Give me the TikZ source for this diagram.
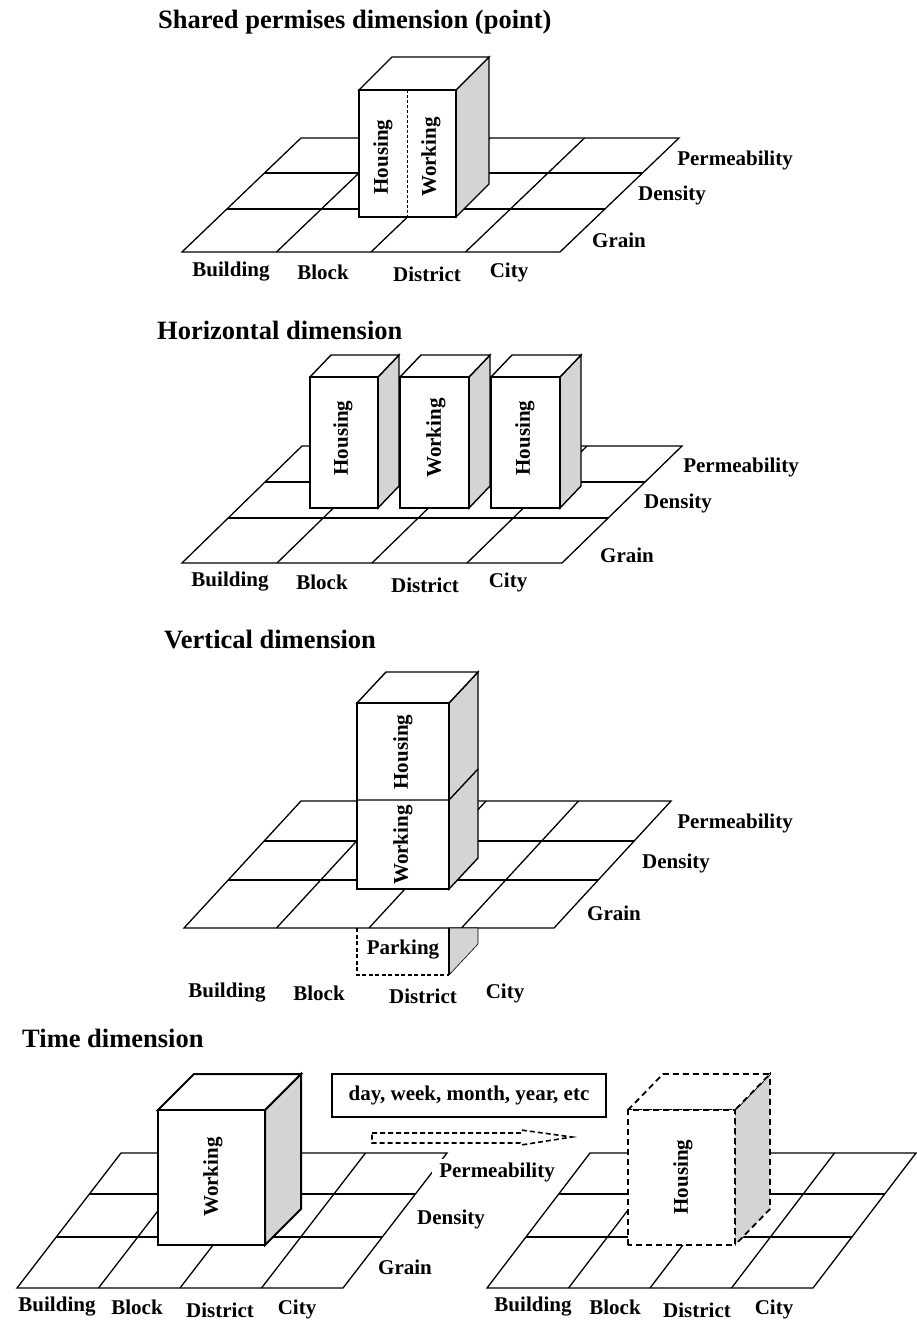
\documentclass[tikz,border=0pt]{standalone}
\usepackage{fontspec}
\setmainfont{Liberation Serif}
\definecolor{sidegray}{HTML}{D4D4D4}
\tikzset{
  gridline/.style={line width=1.3pt, line join=miter},
  face/.style={draw, line width=1.4pt, fill=white, line join=miter},
  side/.style={draw, line width=1.4pt, fill=sidegray, line join=miter},
  lbl/.style={font=\bfseries\fontsize{21}{24}\selectfont, inner sep=0pt},
  vlbl/.style={lbl, rotate=90},
  ttl/.style={font=\bfseries\fontsize{26.5}{30}\selectfont, anchor=west, inner sep=0pt},
  ghost/.style={dash pattern=on 6pt off 4pt, line width=1.8pt},
  splitline/.style={dash pattern=on 3pt off 2pt, line width=1pt},
  underline/.style={dash pattern=on 4pt off 2.5pt, line width=1.2pt},
}
% ground plane: #1 left x, #2 bottom y, #3 width, #4 top y, #5 depth shift, #6 #7 inner rows
\newcommand\floorgrid[7]{%
  \draw[gridline] (#1,#2) -- ({#1+#3},#2) -- ({#1+#3+#5},#4) -- ({#1+#5},#4) -- cycle;
  \foreach \gy in {#6,#7}{\draw[gridline] ({#1+#5*(#2-\gy)/(#2-#4)},\gy) -- ++(#3,0);}
  \foreach \gx in {1,2,3}{\draw[gridline] ({#1+#3*\gx/4},#2) -- ({#1+#3*\gx/4+#5},#4);}
}
% block: #1 front left, #2 front right, #3 top, #4 bottom, #5 #6 depth offset, #7 extra style
\newcommand\prism[7]{%
  \filldraw[side,#7] (#2,#4) -- (#2,#3) -- ({#2+#5},{#3-#6}) -- ({#2+#5},{#4-#6}) -- cycle;
  \filldraw[face,#7] (#1,#3) -- ({#1+#5},{#3-#6}) -- ({#2+#5},{#3-#6}) -- (#2,#3) -- cycle;
  \filldraw[face,#7] (#1,#4) rectangle (#2,#3);
}
\begin{document}
\begin{tikzpicture}[x=1pt, y=-1pt]
\useasboundingbox (0,0) rectangle (916,1321);
\fill[white] (0,0) rectangle (916,1321);

% ---- shared premises ----
\node[ttl] (t1) at (158,22) {Shared permises dimension (point)};
\floorgrid{182}{252}{378}{138}{119}{173}{209}
\prism{359}{456}{90}{217}{33}{33}{}
\draw[splitline] (407.5,90) -- (407.5,217);
\node[vlbl] (p1house) at (383,157) {Housing};
\node[vlbl] (p1work) at (431,157) {Working};
\node[lbl] (p1perm) at (735,160) {Permeability};
\node[lbl] (p1dens) at (672,195) {Density};
\node[lbl] (p1grain) at (619,240) {Grain};
\node[lbl] (p1bld) at (231,272) {Building};
\node[lbl] (p1blk) at (323,272) {Block};
\node[lbl] (p1dst) at (427,274) {District};
\node[lbl] (p1cty) at (509,272) {City};

% ---- horizontal ----
\node[ttl] (t2) at (157,330) {Horizontal dimension};
\floorgrid{182}{563}{380}{446}{120}{482}{518}
\prism{310}{378}{377}{508}{21}{22}{}
\prism{400}{469}{377}{508}{21}{22}{}
\prism{491}{560}{377}{508}{21}{22}{}
\node[vlbl] (p2h1) at (343,438) {Housing};
\node[vlbl] (p2w) at (436,438) {Working};
\node[vlbl] (p2h2) at (525,438) {Housing};
\node[lbl] (p2perm) at (741,467) {Permeability};
\node[lbl] (p2dens) at (678,503) {Density};
\node[lbl] (p2grain) at (627,555) {Grain};
\node[lbl] (p2bld) at (230,582) {Building};
\node[lbl] (p2blk) at (322,582) {Block};
\node[lbl] (p2dst) at (425,585) {District};
\node[lbl] (p2cty) at (508,582) {City};

% ---- vertical ----
\node[ttl] (t3) at (164,640) {Vertical dimension};
\floorgrid{184}{928}{370}{801}{117}{841}{880}
\filldraw[side, line width=0.6pt] (449,928) -- (478,928) -- (478,944) -- (449,975) -- cycle;
\draw[underline] (357,928) -- (357,975) -- (449,975);
\draw[line width=1.2pt] (449,928) -- (449,975);
\prism{357}{449}{703}{889}{29}{31}{}
\draw[line width=1.4pt] (357,800) -- (449,800) -- (478,769);
\node[vlbl] (p3h) at (403,752) {Housing};
\node[vlbl] (p3w) at (403,845) {Working};
\node[lbl] (p3park) at (403,950) {Parking};
\node[lbl] (p3perm) at (735,823) {Permeability};
\node[lbl] (p3dens) at (676,863) {Density};
\node[lbl] (p3grain) at (614,913) {Grain};
\node[lbl] (p3bld) at (227,993) {Building};
\node[lbl] (p3blk) at (319,993) {Block};
\node[lbl] (p3dst) at (423,996) {District};
\node[lbl] (p3cty) at (505,993) {City};

% ---- time ----
\node[ttl] (t4) at (22,1038) {Time dimension};
\floorgrid{17}{1288}{326}{1153}{104}{1194}{1237}
\prism{158}{265}{1110}{1245}{36}{36}{line width=2pt}
\node[vlbl] (p4w) at (213,1177) {Working};
\floorgrid{487}{1288}{326}{1153}{103}{1194}{1237}
\prism{628}{735}{1110}{1245}{35}{36}{ghost}
\node[vlbl] (p4h) at (683,1177) {Housing};

\node[lbl, draw, line width=1.5pt, minimum width=274pt, minimum height=43pt] (period) at (469,1095.5) {day, week, month, year, etc};
\draw[dash pattern=on 5pt off 3pt, line width=1.6pt, line join=miter]
  (372,1133) -- (520,1133) -- (521,1130) -- (572,1137) -- (521,1145) -- (520,1143) -- (372,1143) -- cycle;

\node[lbl, fill=white, inner xsep=7pt, inner ysep=3pt] (p4perm) at (497,1172) {Permeability};
\node[lbl] (p4dens) at (451,1219) {Density};
\node[lbl] (p4grain) at (405,1267) {Grain};
\node[lbl] (p4bld) at (57,1307) {Building};
\node[lbl] (p4blk) at (137,1307) {Block};
\node[lbl] (p4dst) at (220,1310) {District};
\node[lbl] (p4cty) at (297,1309) {City};
\node[lbl] (p5bld) at (533,1307) {Building};
\node[lbl] (p5blk) at (615,1307) {Block};
\node[lbl] (p5dst) at (697,1310) {District};
\node[lbl] (p5cty) at (774,1309) {City};
\end{tikzpicture}
\end{document}
